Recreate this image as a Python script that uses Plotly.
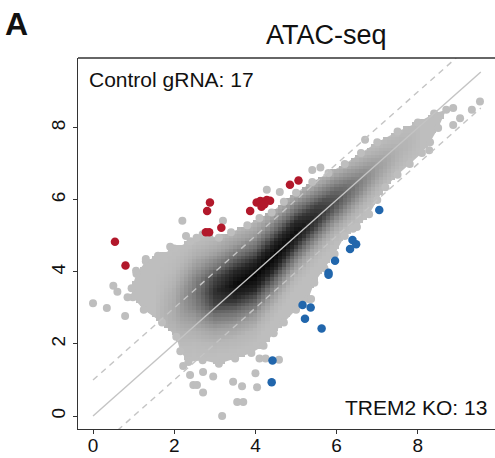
import numpy as np
import plotly.graph_objects as go

# ---- highlighted peaks ----
red_x = [0.54, 0.80, 2.88, 2.81, 2.78, 2.86, 3.16, 3.87, 4.03, 4.12, 4.20, 4.28, 4.36, 4.15, 4.22, 4.85, 5.06]
red_y = [4.84, 4.18, 5.93, 5.69, 5.10, 5.10, 5.23, 5.69, 5.93, 5.97, 5.95, 6.00, 5.98, 5.81, 5.88, 6.42, 6.54]
blue_x = [7.05, 6.39, 6.48, 6.33, 5.96, 5.80, 5.80, 5.16, 5.36, 5.22, 5.63, 4.42, 4.40]
blue_y = [5.72, 4.89, 4.77, 4.64, 4.31, 3.98, 3.92, 3.08, 3.01, 2.70, 2.43, 1.54, 0.94]

# ---- grey cloud outline ----
env_x = [0.95, 1.07, 1.30, 1.60, 2.00, 2.40, 2.70, 3.10, 3.40, 3.80, 4.10, 4.40, 4.70, 5.00, 5.40, 5.80,
         6.20, 6.60, 7.00, 7.50, 8.00, 8.40, 8.70,
         8.50, 8.30, 8.10, 7.80, 7.50, 7.20, 7.00, 6.80, 6.50, 6.20, 5.95, 5.70, 5.45, 5.30, 5.00, 4.70,
         4.45, 4.20, 3.90, 3.50, 3.10, 2.70, 2.35, 2.15, 2.05, 1.70, 1.25, 0.98]
env_y = [3.55, 3.95, 4.30, 4.45, 4.65, 4.85, 5.05, 4.95, 5.10, 5.30, 5.50, 5.65, 5.95, 6.20, 6.50, 6.75,
         7.00, 7.30, 7.60, 7.90, 8.15, 8.40, 8.50,
         8.00, 7.60, 7.30, 7.00, 6.70, 6.35, 6.00, 5.60, 5.25, 5.00, 4.50, 4.10, 3.70, 3.25, 2.95, 2.60,
         2.30, 1.95, 1.75, 1.60, 1.45, 1.55, 1.50, 1.80, 2.20, 2.60, 2.95, 3.30]

# ---- scattered grey points outside the dense cloud ----
out_x = [0.00, 0.34, 0.50, 0.60, 0.79, 0.85, 1.06, 1.30, 1.73, 1.90, 2.20, 2.29, 3.20, 2.55,
         2.22, 2.39, 2.47, 2.56, 2.71, 2.71, 2.96, 3.45, 3.67, 3.55, 3.70, 3.18, 4.04, 4.00, 4.10, 4.25, 4.58,
         4.28, 4.60, 5.40, 5.60, 6.70, 8.87, 9.33, 9.53, 8.87, 9.04, 8.28, 6.40, 5.37]
out_y = [3.13, 3.00, 3.62, 3.45, 2.78, 3.30, 4.03, 4.36, 4.44, 4.70, 5.42, 5.00, 5.42, 4.95,
         1.39, 1.14, 0.86, 0.86, 0.65, 1.22, 1.10, 0.95, 0.83, 0.39, 0.39, 0.00, 0.80, 1.19, 1.60, 1.60, 1.56,
         6.28, 6.22, 6.83, 6.90, 7.67, 8.55, 8.50, 8.73, 8.08, 8.27, 7.38, 5.20, 3.25]

# ---- density core, read along the cloud (x position) ----
core_x = [1.5, 2.0, 2.5, 3.0, 3.5, 4.0, 4.5, 5.0, 5.5, 6.0, 6.5, 7.0, 7.5, 8.0]
core_offset = [1.3, 1.1, 0.9, 0.45, 0.15, -0.1, 0.0, 0.1, 0.05, 0.0, -0.1, -0.15, -0.2, -0.2]
core_peak = [0.0, 0.12, 0.4, 0.8, 0.97, 1.0, 1.0, 0.95, 0.82, 0.62, 0.4, 0.2, 0.08, 0.02]
core_halfwidth = [0.6, 0.65, 0.7, 0.72, 0.75, 0.75, 0.7, 0.62, 0.55, 0.5, 0.45, 0.4, 0.35, 0.3]
profile_dist = [0.0, 0.5, 1.0, 1.5, 2.0, 2.5]
profile_val = [1.0, 0.85, 0.5, 0.2, 0.05, 0.0]

x_ticks = [0, 2, 4, 6, 8]
y_ticks = [0, 2, 4, 6, 8]
diag_x = [0, 9.55]
diag_offsets = [-1, 0, 1]

GREY = "#BEBEBE"
RED = "#B2182B"
BLUE = "#2166AC"
FONT = "Liberation Sans"


def inside_polygon(px, py, vx, vy):
    vx = np.asarray(vx); vy = np.asarray(vy)
    res = np.zeros(px.shape, dtype=bool)
    n = len(vx)
    j = n - 1
    for i in range(n):
        xi, yi, xj, yj = vx[i], vy[i], vx[j], vy[j]
        cond = ((yi > py) != (yj > py))
        xint = (xj - xi) * (py - yi) / (yj - yi + 1e-12) + xi
        res ^= cond & (px < xint)
        j = i
    return res


gx = np.arange(-0.3, 9.95, 0.1)
gy = np.arange(-0.3, 9.95, 0.1)
GX, GY = np.meshgrid(gx, gy)
off = np.interp(GX, core_x, core_offset)
pk = np.interp(GX, core_x, core_peak, left=0, right=0)
hw = np.interp(GX, core_x, core_halfwidth)
dist = np.abs((GY - GX) - off) / hw
dark = pk * np.interp(dist, profile_dist, profile_val, right=0)
mask = inside_polygon(GX, GY, env_x, env_y)
Z = np.where(mask, dark, np.nan)

fig = go.Figure()

fig.add_trace(go.Heatmap(
    x=gx, y=gy, z=Z, zmin=0, zmax=1, zsmooth=False, showscale=False,
    colorscale=[[0, GREY], [0.5, "#6a6a6a"], [1, "#050505"]], hoverinfo="skip"))

# cloud outline as a filled path below traces
path = "M " + " L ".join(f"{a},{b}" for a, b in zip(env_x, env_y)) + " Z"
fig.add_shape(type="path", path=path, xref="x", yref="y", fillcolor=GREY,
              line=dict(width=0), layer="below")

fig.add_trace(go.Scatter(x=env_x + out_x, y=env_y + out_y, mode="markers",
                         marker=dict(size=8, color=GREY), hoverinfo="skip"))

for o in diag_offsets:
    fig.add_trace(go.Scatter(
        x=diag_x, y=[v + o for v in diag_x], mode="lines",
        line=dict(color="#C4C4C4", width=1.4, dash="solid" if o == 0 else "6px,5px"),
        hoverinfo="skip"))

fig.add_trace(go.Scatter(x=red_x, y=red_y, mode="markers",
                         marker=dict(size=8.5, color=RED)))
fig.add_trace(go.Scatter(x=blue_x, y=blue_y, mode="markers",
                         marker=dict(size=8.5, color=BLUE)))

axis_common = dict(showgrid=False, zeroline=False, showline=True, linecolor="#333333", linewidth=1.3,
                   ticks="outside", ticklen=4, tickwidth=1.2, tickcolor="#333333",
                   tickfont=dict(family=FONT, size=19, color="#111111"), automargin=False)

fig.update_layout(
    template="none",
    width=495, height=458,
    margin=dict(l=78, r=0, t=58, b=29),
    plot_bgcolor="white", paper_bgcolor="white",
    showlegend=False,
    xaxis=dict(range=[-0.37, 9.9], tickvals=x_ticks, ticklabelstandoff=-5, **axis_common),
    yaxis=dict(range=[-0.36, 9.94], tickvals=y_ticks, tickangle=-90, **axis_common),
)

fig.add_shape(type="line", xref="paper", yref="paper", x0=0, x1=1, y0=1, y1=1,
              line=dict(color="#333333", width=1.3))

fig.add_annotation(text="ATAC-seq", xref="paper", yref="paper", x=0.595, y=1.062,
                   xanchor="center", yanchor="middle", showarrow=False,
                   font=dict(family=FONT, size=27, color="#111111"))
fig.add_annotation(text="<b>A</b>", xref="paper", yref="paper", x=-0.18, y=1.092,
                   xanchor="left", yanchor="middle", showarrow=False,
                   font=dict(family=FONT, size=32, color="#111111"))
fig.add_annotation(text="Control gRNA: 17", xref="paper", yref="paper", x=0.022, y=0.943,
                   xanchor="left", yanchor="middle", showarrow=False,
                   font=dict(family=FONT, size=21, color="#111111"))
fig.add_annotation(text="TREM2 KO: 13", xref="paper", yref="paper", x=0.985, y=0.057,
                   xanchor="right", yanchor="middle", showarrow=False,
                   font=dict(family=FONT, size=21, color="#111111"))

fig.write_html("out.html", config={"displayModeBar": False})
